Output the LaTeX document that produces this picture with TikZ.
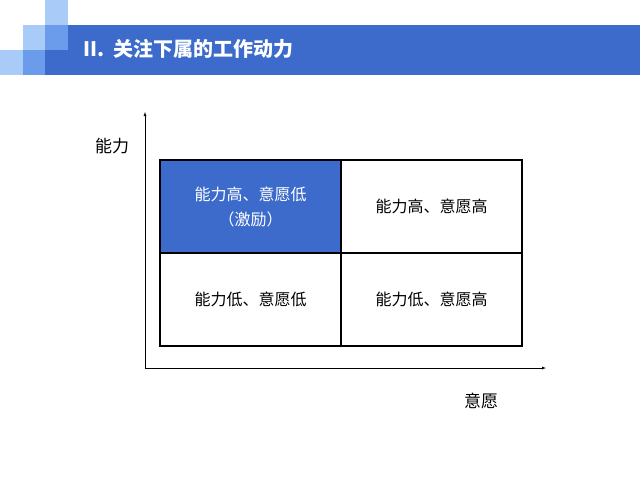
\documentclass[tikz,border=0pt]{standalone}
\usepackage{fontspec}
\setmainfont{Liberation Sans}
\newfontfamily\cjk{Noto Sans CJK SC}
\usetikzlibrary{arrows,calc}
\tikzset{>=latex}
\definecolor{barblue}{HTML}{3C6BCB}
\definecolor{midblue}{HTML}{6A9CEB}
\definecolor{ltblue}{HTML}{A8CCF7}
\tikzstyle{cell}=[rectangle,draw=black,line width=1.3pt,minimum width=181pt,minimum height=93pt,align=center,font=\cjk\fontsize{16}{25}\selectfont]
\tikzstyle{axlabel}=[font=\cjk\fontsize{17}{20}\selectfont]
\begin{document}
\begin{tikzpicture}[x=1pt,y=-1pt]
	\useasboundingbox (0,0) rectangle (640,480);
	% header
	\fill[ltblue] (45,0) rectangle (68,25);
	\fill[ltblue] (23,25) rectangle (45,50);
	\fill[midblue] (45,25) rectangle (68,50);
	\fill[ltblue] (0,50) rectangle (23,75);
	\fill[midblue] (23,50) rectangle (45,75);
	\fill[barblue] (45,50) rectangle (68,75);
	\fill[barblue] (68,25) rectangle (640,75);
	\node[anchor=west,text=white,font=\cjk\bfseries\fontsize{20}{24}\selectfont] (title) at (80,49) {II.\ \ 关注下属的工作动力};

	% axes
	\coordinate (o) at (145,368);
	\coordinate (ytop) at (145,112);
	\coordinate (xend) at (546,368);
	\draw[->,thin] (o) -- (ytop);
	\draw[->,thin] (o) -- (xend);
	\node[axlabel] (ylab) at (112,146) {能力};
	\node[axlabel] (xlab) at (481,401) {意愿};

	% matrix
	\node[cell,fill=barblue,text=white] (c11) at (250.5,206.5) {能力高、意愿低\\（激励）};
	\node[cell] (c12) at (431.5,206.5) {能力高、意愿高};
	\node[cell] (c21) at (250.5,299.5) {能力低、意愿低};
	\node[cell] (c22) at (431.5,299.5) {能力低、意愿高};
\end{tikzpicture}
\end{document}
